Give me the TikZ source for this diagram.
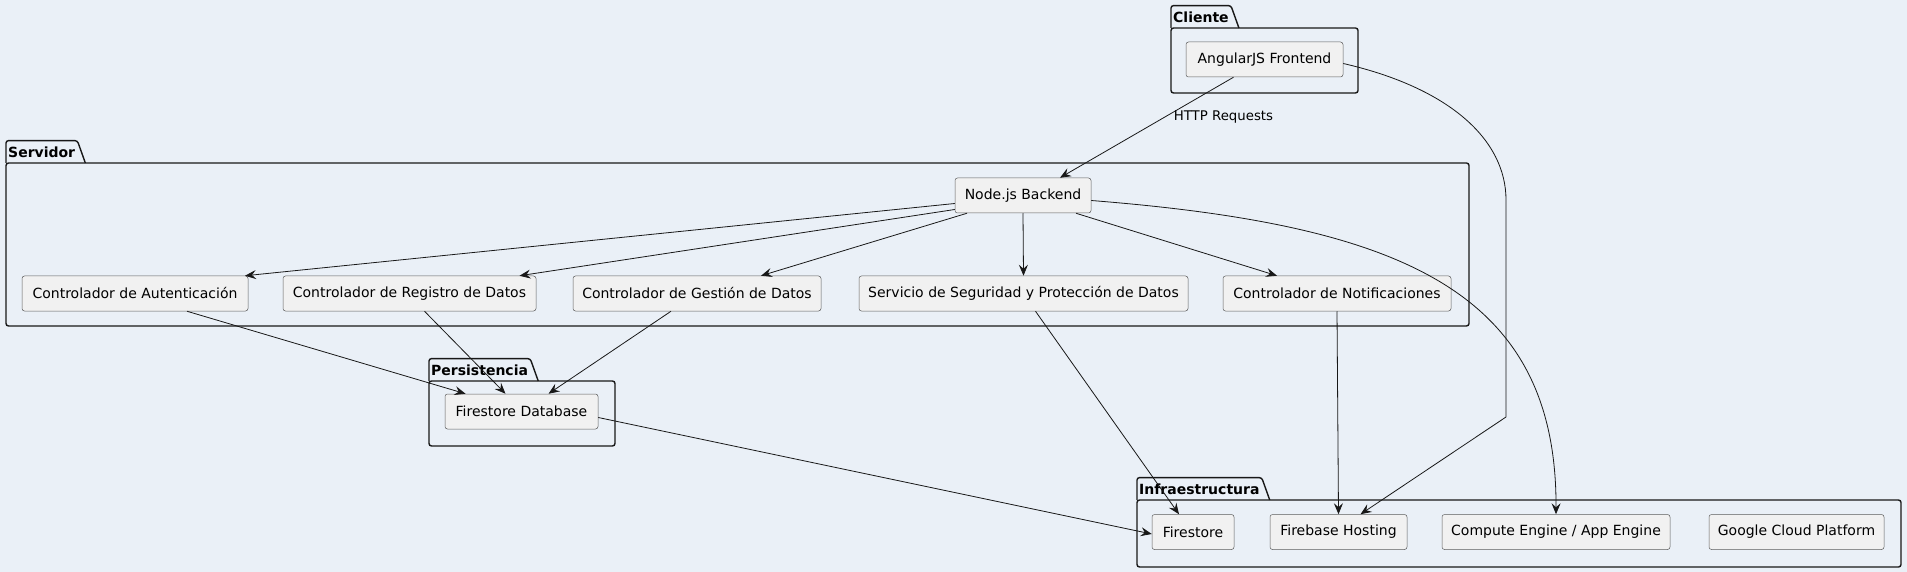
\documentclass[tikz,border=0pt]{standalone}
\usepackage{fontspec}
\setmainfont{DejaVu Sans}
\usetikzlibrary{arrows.meta}
\definecolor{bgcol}{HTML}{EAF0F7}
\definecolor{boxcol}{HTML}{F1F1F1}
\definecolor{linecol}{HTML}{181818}
\begin{document}
\begin{tikzpicture}[x=1pt,y=-1pt,
  comp/.style={draw=linecol!70,fill=boxcol,line width=0.5pt,rounded corners=2.5pt,minimum height=35pt,inner sep=0pt,font=\fontsize{14}{16}\selectfont},
  pkg/.style={draw=linecol,line width=1.4pt,rounded corners=2.5pt},
  pkgtitle/.style={anchor=south west,inner xsep=2pt,inner ysep=0pt,minimum height=22pt,font=\fontsize{14}{16}\selectfont\bfseries},
  edge/.style={draw=linecol,line width=0.8pt,-{Stealth[length=11pt,width=9pt,inset=4pt]}},
  lbl/.style={font=\fontsize{13.3}{15}\selectfont}]
\useasboundingbox (0,0) rectangle (1907,572);
\fill[bgcol] (0,0) rectangle (1907,572);
\node[pkgtitle] (tcli) at (1171,28) {Cliente};
\draw[pkg] (tcli.south west) -- (tcli.north west) -- (tcli.north east) -- ([xshift=8pt]tcli.south east);
\draw[pkg] (1171,28) rectangle (1358,93);
\node[pkgtitle] (tsrv) at (6,163) {Servidor};
\draw[pkg] (tsrv.south west) -- (tsrv.north west) -- (tsrv.north east) -- ([xshift=8pt]tsrv.south east);
\draw[pkg] (6,163) rectangle (1469,326);
\node[pkgtitle] (tper) at (429,381) {Persistencia};
\draw[pkg] (tper.south west) -- (tper.north west) -- (tper.north east) -- ([xshift=8pt]tper.south east);
\draw[pkg] (429,381) rectangle (615,446);
\node[pkgtitle] (tinf) at (1137,500) {Infraestructura};
\draw[pkg] (tinf.south west) -- (tinf.north west) -- (tinf.north east) -- ([xshift=8pt]tinf.south east);
\draw[pkg] (1137,500) rectangle (1901,567);
\node[comp,minimum width=157pt] (fe) at (1264.5,59.5) {AngularJS Frontend};
\node[comp,minimum width=136pt] (be) at (1023,195.5) {Node.js Backend};
\node[comp,minimum width=226pt] (aut) at (135,293.5) {Controlador de Autenticación};
\node[comp,minimum width=253pt] (reg) at (409.5,293.5) {Controlador de Registro de Datos};
\node[comp,minimum width=248pt] (ges) at (697,293.5) {Controlador de Gestión de Datos};
\node[comp,minimum width=329pt] (seg) at (1023.5,293.5) {Servicio de Seguridad y Protección de Datos};
\node[comp,minimum width=228pt] (noti) at (1337,293.5) {Controlador de Notificaciones};
\node[comp,minimum width=153pt] (fdb) at (521.5,411.5) {Firestore Database};
\node[comp,minimum width=82pt] (fs) at (1193,532) {Firestore};
\node[comp,minimum width=137pt] (fbh) at (1338.5,532) {Firebase Hosting};
\node[comp,minimum width=228pt] (cge) at (1556,532) {Compute Engine / App Engine};
\node[comp,minimum width=175pt] (gcp) at (1796.5,532) {Google Cloud Platform};
\draw[edge] ([xshift=-31pt]fe.south) -- node[lbl,pos=0.4,anchor=west,xshift=6pt] (lhttp) {HTTP Requests} ([xshift=37pt]be.north);
\draw[edge] ([yshift=-4pt]fe.east) .. controls (1450,88) and (1506,140) .. (1506,200) -- (1506,417) -- ([xshift=22pt]fbh.north);
\draw[edge] ([yshift=-8pt]be.west) -- ([xshift=110pt]aut.north);
\draw[edge] ([yshift=-14pt]be.west) -- ([xshift=110pt]reg.north);
\draw[edge] ([xshift=-56pt]be.south) -- ([xshift=64pt]ges.north);
\draw[edge] (be.south) -- (seg.north);
\draw[edge] ([xshift=53pt]be.south) -- ([xshift=-60pt]noti.north);
\draw[edge] ([yshift=-5pt]be.east) .. controls (1400,225) and (1557,290) .. (cge.north);
\draw[edge] ([xshift=52pt]aut.south) -- ([xshift=-56pt]fdb.north);
\draw[edge] ([xshift=15pt]reg.south) -- ([xshift=-16pt]fdb.north);
\draw[edge] ([xshift=-26pt]ges.south) -- ([xshift=27pt]fdb.north);
\draw[edge] ([xshift=12pt]seg.south) -- ([xshift=-14pt]fs.north);
\draw[edge] (noti.south) -- (fbh.north);
\draw[edge] ([yshift=-6pt]fdb.east) -- ([yshift=-2pt]fs.west);
\end{tikzpicture}
\end{document}
